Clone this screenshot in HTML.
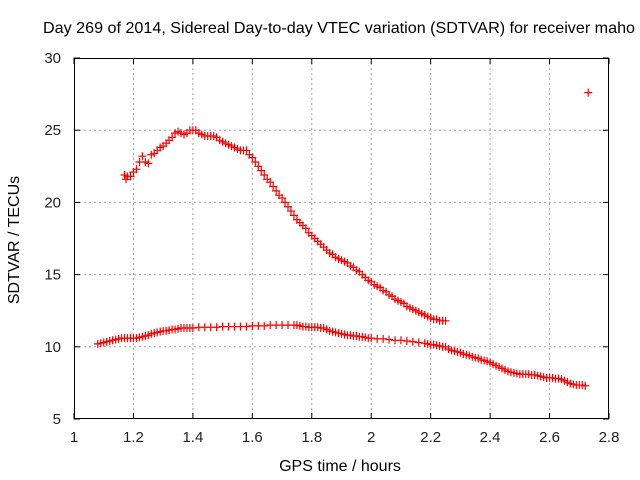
<!DOCTYPE html>
<html><head><meta charset="utf-8"><style>
html,body{margin:0;padding:0;background:#fff;}
svg{display:block;font-family:"Liberation Sans",sans-serif;}
</style></head><body>
<svg id="chart" width="640" height="480" viewBox="0 0 640 480" xmlns="http://www.w3.org/2000/svg">
<rect width="640" height="480" fill="#fff"/>
<text x="43" y="33" font-size="16" textLength="592" lengthAdjust="spacingAndGlyphs" fill="#000">Day 269 of 2014, Sidereal Day-to-day VTEC variation (SDTVAR) for receiver maho</text>
<g id="grid"></g>
<g id="axes"></g>
<g id="marks"></g>
<text x="340" y="471" font-size="16" text-anchor="middle">GPS time / hours</text>
<text transform="translate(19,240) rotate(-90)" font-size="16" text-anchor="middle">SDTVAR / TECUs</text>
</svg>
<script>
const xTicks=[1,1.2,1.4,1.6,1.8,2,2.2,2.4,2.6,2.8];
const xTickLabels=["1","1.2","1.4","1.6","1.8","2","2.2","2.4","2.6","2.8"];
const yTicks=[5,10,15,20,25,30];
const yTickLabels=["5","10","15","20","25","30"];
const upperX=[1.17,1.175,1.18,1.19,1.20,1.21,1.22,1.23,1.24,1.25,1.26,1.27,1.28,1.29,1.30,1.31,1.32,1.33,1.34,1.35,1.36,1.37,1.38,1.39,1.40,1.41,1.42,1.43,1.44,1.45,1.46,1.47,1.48,1.49,1.50,1.51,1.52,1.53,1.54,1.55,1.56,1.57,1.58,1.59,1.60,1.61,1.62,1.63,1.64,1.65,1.66,1.67,1.68,1.69,1.70,1.71,1.72,1.73,1.74,1.75,1.76,1.77,1.78,1.79,1.80,1.81,1.82,1.83,1.84,1.85,1.86,1.87,1.88,1.89,1.90,1.91,1.92,1.93,1.94,1.95,1.96,1.97,1.98,1.99,2.00,2.01,2.02,2.03,2.04,2.05,2.06,2.07,2.08,2.09,2.10,2.11,2.12,2.13,2.14,2.15,2.16,2.17,2.18,2.19,2.20,2.21,2.22,2.23,2.24,2.25];
const upperY=[21.9,21.6,21.8,21.8,22.1,22.3,22.8,23.2,22.8,22.7,23.3,23.4,23.6,23.8,23.9,24.1,24.3,24.5,24.8,24.9,24.8,24.7,24.8,25.0,25.0,25.0,24.8,24.7,24.6,24.6,24.6,24.6,24.5,24.3,24.2,24.1,24.0,23.9,23.8,23.7,23.6,23.6,23.6,23.3,23.1,22.8,22.5,22.2,21.9,21.6,21.4,21.1,20.8,20.5,20.3,20.0,19.7,19.4,19.1,18.8,18.6,18.4,18.2,17.9,17.7,17.5,17.3,17.1,16.9,16.7,16.5,16.4,16.2,16.1,16.0,15.9,15.8,15.6,15.5,15.3,15.2,15.0,14.8,14.6,14.5,14.3,14.2,14.1,13.9,13.8,13.6,13.5,13.3,13.2,13.1,13.0,12.8,12.7,12.6,12.5,12.4,12.3,12.2,12.1,12.0,11.9,11.9,11.8,11.8,11.8];
const lowerX=[1.08,1.09,1.10,1.11,1.12,1.13,1.14,1.15,1.16,1.17,1.18,1.19,1.20,1.21,1.22,1.23,1.24,1.25,1.26,1.27,1.28,1.29,1.30,1.31,1.32,1.33,1.34,1.35,1.36,1.37,1.38,1.39,1.40,1.42,1.44,1.46,1.48,1.50,1.52,1.54,1.56,1.58,1.60,1.62,1.64,1.66,1.68,1.70,1.72,1.74,1.75,1.76,1.77,1.78,1.79,1.80,1.81,1.82,1.83,1.84,1.85,1.86,1.87,1.88,1.89,1.90,1.91,1.92,1.93,1.94,1.95,1.96,1.97,1.98,1.99,2.00,2.02,2.04,2.06,2.08,2.10,2.12,2.14,2.16,2.18,2.19,2.20,2.21,2.22,2.23,2.24,2.25,2.26,2.27,2.28,2.29,2.30,2.31,2.32,2.33,2.34,2.35,2.36,2.37,2.38,2.39,2.40,2.41,2.42,2.43,2.44,2.45,2.46,2.47,2.48,2.49,2.50,2.51,2.52,2.53,2.54,2.55,2.56,2.57,2.58,2.59,2.60,2.61,2.62,2.63,2.64,2.65,2.66,2.67,2.68,2.69,2.70,2.71,2.72];
const lowerY=[10.2,10.25,10.3,10.35,10.4,10.45,10.5,10.55,10.6,10.6,10.6,10.6,10.6,10.6,10.65,10.7,10.75,10.8,10.9,10.95,11.0,11.05,11.1,11.1,11.15,11.2,11.2,11.25,11.3,11.3,11.3,11.3,11.3,11.35,11.35,11.35,11.35,11.4,11.4,11.4,11.4,11.4,11.45,11.45,11.45,11.5,11.5,11.5,11.5,11.5,11.5,11.45,11.4,11.4,11.35,11.35,11.35,11.35,11.3,11.3,11.2,11.1,11.05,11.0,10.95,10.9,10.85,10.8,10.8,10.75,10.75,10.7,10.7,10.65,10.6,10.6,10.55,10.55,10.5,10.45,10.45,10.4,10.35,10.3,10.25,10.2,10.15,10.15,10.1,10.05,10.0,10.0,9.85,9.75,9.7,9.65,9.6,9.5,9.45,9.4,9.3,9.25,9.2,9.1,9.05,9.0,8.9,8.8,8.7,8.6,8.5,8.4,8.3,8.25,8.2,8.15,8.1,8.1,8.1,8.1,8.05,8.05,8.0,7.95,7.9,7.85,7.85,7.85,7.8,7.8,7.75,7.65,7.55,7.45,7.4,7.35,7.35,7.35,7.3,7.3,7.3];
const outlierX=[2.73];
const outlierY=[27.6];

const X0=74,X1=609,Y0=419,Y1=58;
const xMin=1,xMax=2.8,yMin=5,yMax=30;
function sx(v){return X0+(v-xMin)/(xMax-xMin)*(X1-X0);}
function sy(v){return Y0-(v-yMin)/(yMax-yMin)*(Y0-Y1);}
const NS="http://www.w3.org/2000/svg";
function mk(tag,attrs,parent){const e=document.createElementNS(NS,tag);for(const k in attrs)e.setAttribute(k,attrs[k]);parent.appendChild(e);return e;}
const grid=document.getElementById('grid'),axes=document.getElementById('axes'),marks=document.getElementById('marks');

xTicks.forEach((t,i)=>{
  const x=sx(t);
  if(i>0&&i<xTicks.length-1){
    const g=mk('line',{x1:x,y1:Y1,x2:x,y2:Y0,stroke:'#a0a0a0','stroke-dasharray':'2,3','stroke-width':1},grid);
    
    
  }
  mk('line',{x1:x,y1:Y0,x2:x,y2:Y0-6,stroke:'#000'},axes);
  mk('line',{x1:x,y1:Y1,x2:x,y2:Y1+6,stroke:'#000'},axes);
  const tx=mk('text',{x:x,y:Y0+23,'font-size':15,'text-anchor':'middle',fill:'#222'},axes);
  tx.textContent=xTickLabels[i];
  
  
});
yTicks.forEach((t,i)=>{
  const y=sy(t);
  if(i>0&&i<yTicks.length-1){
    const g=mk('line',{x1:X0,y1:y,x2:X1,y2:y,stroke:'#a0a0a0','stroke-dasharray':'2,3','stroke-width':1},grid);
    
    
  }
  mk('line',{x1:X0,y1:y,x2:X0+6,y2:y,stroke:'#000'},axes);
  mk('line',{x1:X1,y1:y,x2:X1-6,y2:y,stroke:'#000'},axes);
  const ty=mk('text',{x:X0-13,y:y+5,'font-size':15,'text-anchor':'end',fill:'#222'},axes);
  ty.textContent=yTickLabels[i];
  
  
});
const fr=mk('rect',{x:X0+0.5,y:Y1+0.5,width:X1-X0-1,height:Y0-Y1-1,fill:'none',stroke:'#000','stroke-width':1},axes);



function plus(xv,yv,name){
  const x=sx(xv),y=sy(yv);
  const p=mk('path',{d:`M${x-4},${y}H${x+4}M${x},${y-4}V${y+4}`,stroke:'#ff0000','stroke-width':1.2,fill:'none'},marks);
  
  
}
upperX.forEach((v,i)=>plus(v,upperY[i],'upper-series-point'));
lowerX.forEach((v,i)=>plus(v,lowerY[i],'lower-series-point'));
outlierX.forEach((v,i)=>plus(v,outlierY[i],'outlier-point'));
</script>
</body></html>
